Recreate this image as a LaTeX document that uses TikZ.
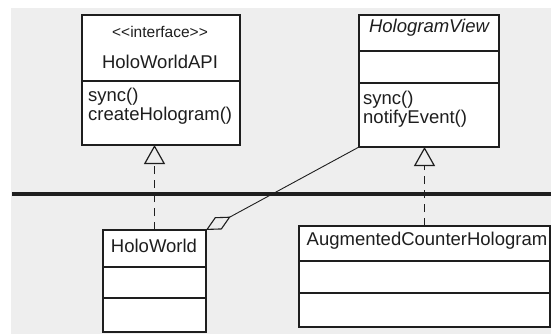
\documentclass[tikz,border=0pt]{standalone}
\usepackage{fontspec}
\setmainfont{Liberation Sans}
\usetikzlibrary{positioning}
\usetikzlibrary{calc}
\usetikzlibrary{arrows.meta}

\definecolor{panel}{RGB}{238,238,238}
\definecolor{ink}{RGB}{30,30,30}

\tikzset{
  part/.style={draw=ink, fill=white, line width=1.2pt, anchor=north west, inner sep=0pt, outer sep=0pt},
  txt/.style={text=ink, inner sep=0pt, font=\fontsize{18.5}{19}\selectfont},
  realize/.style={draw=ink, line width=1.4pt, dash pattern=on 8pt off 6pt, -{Triangle[open, width=21pt, length=19pt, line width=1.2pt]}},
  aggr/.style={draw=ink, line width=0.9pt, -{Diamond[open, width=14pt, length=28pt, line width=1.1pt]}}
}

\begin{document}
\begin{tikzpicture}[x=1pt,y=-1pt]
\useasboundingbox (0,0) rectangle (551,334);
\fill[white] (0,0) rectangle (551,334);
\fill[panel] (11,8) rectangle (551,334);

\coordinate (sepL) at (12,194);
\coordinate (sepR) at (551,194);
\draw[line width=4.5pt, ink] (sepL) -- (sepR);

\node[part, minimum width=158pt, minimum height=66pt](apiName) at (82,15){};
\node[part, minimum width=158pt, minimum height=64pt](apiOps) at (82,81){};
\node[part, minimum width=140pt, minimum height=36pt](viewName) at (359,15){};
\node[part, minimum width=140pt, minimum height=32pt](viewAttr) at (359,51){};
\node[part, minimum width=140pt, minimum height=64pt](viewOps) at (359,83){};
\node[part, minimum width=103pt, minimum height=37pt](worldName) at (103,230){};
\node[part, minimum width=103pt, minimum height=31pt](worldAttr) at (103,267){};
\node[part, minimum width=103pt, minimum height=34pt](worldOps) at (103,298){};
\node[part, minimum width=251pt, minimum height=35pt](augName) at (299,226){};
\node[part, minimum width=251pt, minimum height=32pt](augAttr) at (299,261){};
\node[part, minimum width=251pt, minimum height=34pt](augOps) at (299,293){};

\node[txt, font=\fontsize{15.5}{17}\selectfont](apiStereo) at (160,32){<{}<interface>{}>};
\node[txt](apiLabel) at (160,62){HoloWorldAPI};
\node[txt, anchor=west, align=left](apiMethods) at (88,106){sync()\\createHologram()};
\node[txt, font=\fontsize{18.5}{19}\itshape](viewLabel) at (429,28){HologramView};
\node[txt, anchor=west, align=left](viewMethods) at (363,109){sync()\\notifyEvent()};
\node[txt](worldLabel) at (154,246){HoloWorld};
\node[txt](augLabel) at (427,241){AugmentedCounterHologram};

\draw[realize] (worldName.north) -- (worldName.north |- apiOps.south);
\draw[realize] (augName.north) -- (augName.north |- viewOps.south);
\path
(viewOps.south west) edge[aggr] (worldName.north east);
\end{tikzpicture}
\end{document}
